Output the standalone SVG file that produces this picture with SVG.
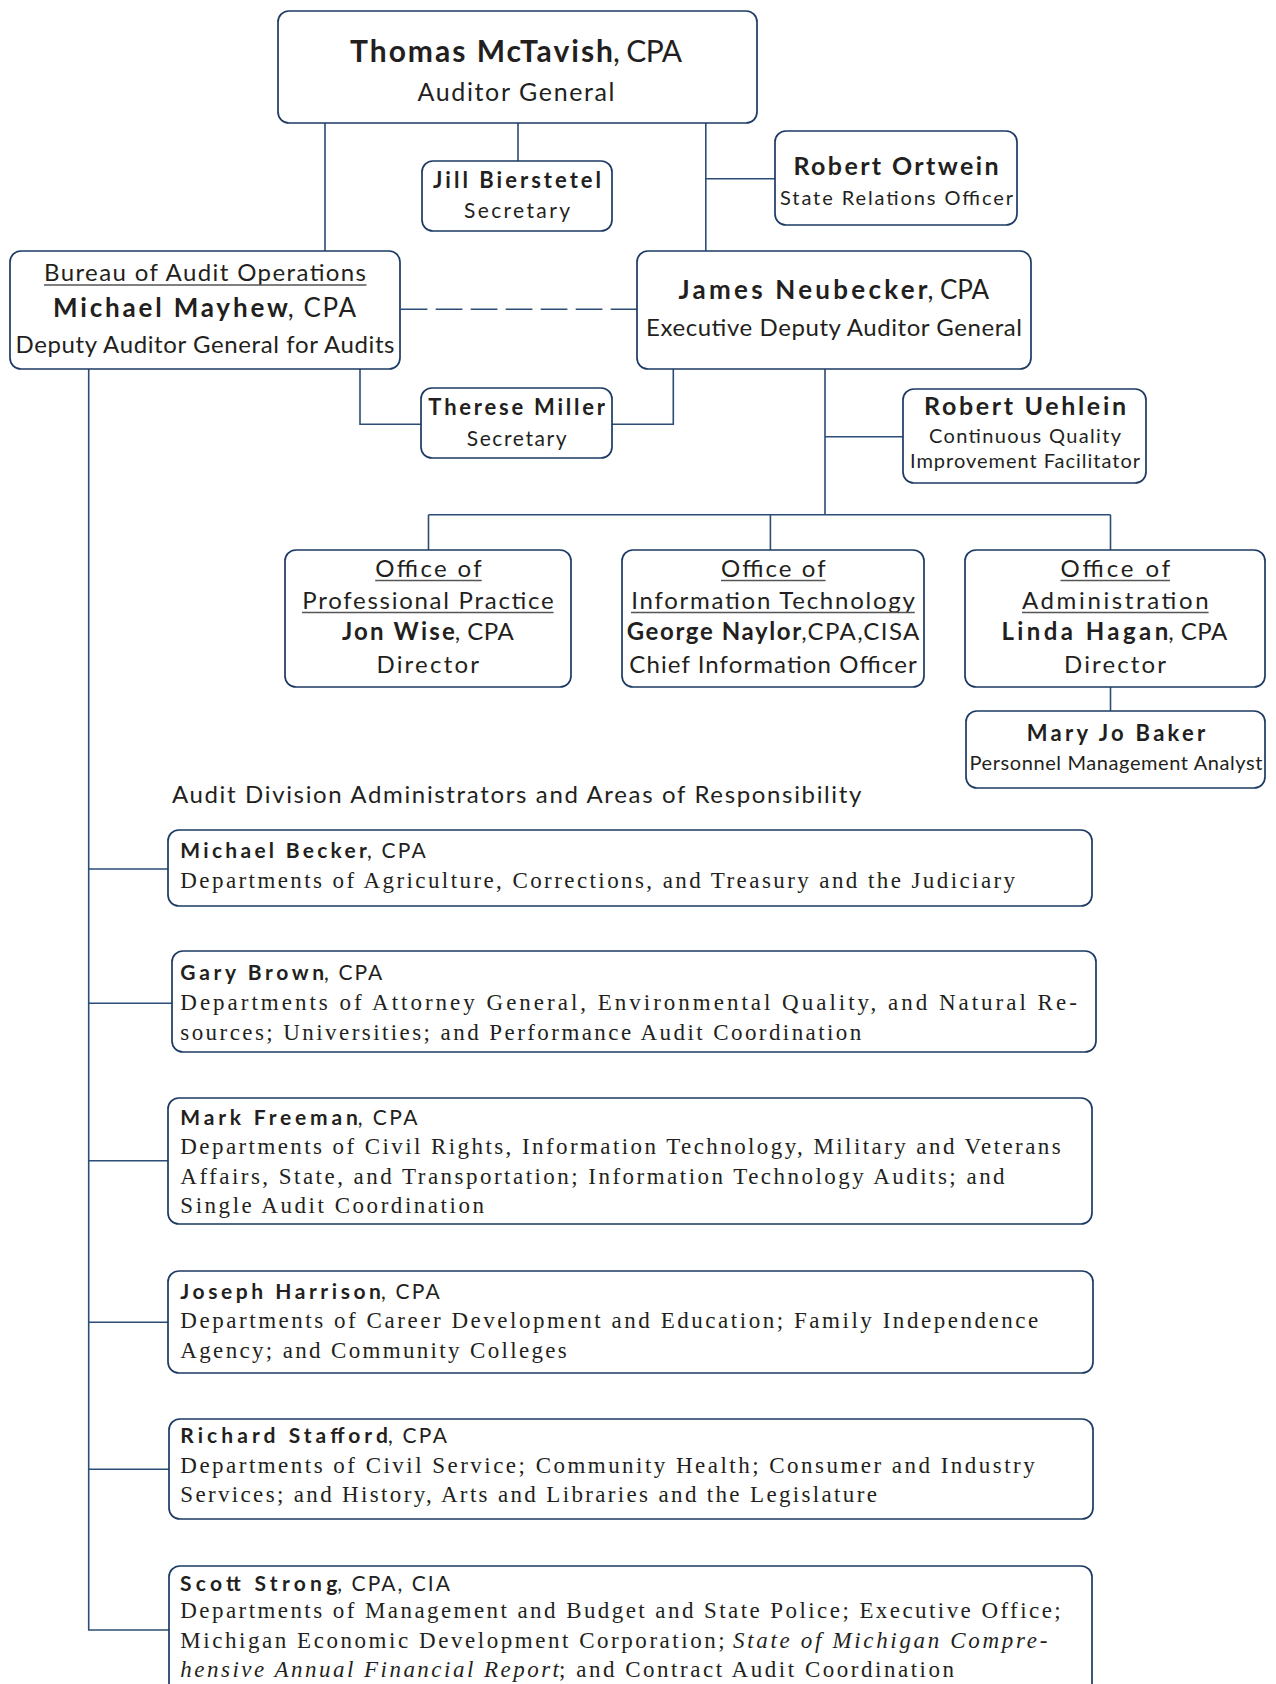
<svg xmlns="http://www.w3.org/2000/svg" width="1276" height="1684" viewBox="0 0 1276 1684">
<style>
.box{fill:#fff;stroke:#1c3a63;stroke-width:1.7}
.con{fill:none;stroke:#2c4d75;stroke-width:1.6}
.dash{fill:none;stroke:#2c4d75;stroke-width:1.6;stroke-dasharray:26.7 8.3}
.ul{stroke:#555;stroke-width:1.3}
text{font-family:Lato,"Open Sans","Liberation Sans",sans-serif;fill:#231f20}
.b{font-weight:bold}
.c{text-anchor:middle}
.s{font-family:"Liberation Serif","DejaVu Serif",serif;font-size:23px}
.i{font-style:italic}
.n{font-size:21px}
</style>
<rect width="1276" height="1684" fill="#fff"/>
<g id="connectors">
<path class="con" d="M325 123V251M518 123V161M705.8 123V251M705.8 178.7H775"/>
<path class="dash" d="M400.7 309.3H637"/>
<path class="con" d="M360 369V424.3H421M673.3 369V424.3H611.7"/>
<path class="con" d="M825 369V514.7M825 436.7H903"/>
<path class="con" d="M428.5 514.7H1110.5M428.5 514.7V550M770.4 514.7V550M1110.5 514.7V550M1110.5 687V711"/>
<path class="con" d="M88.7 369V1630H169M88.7 869H168M88.7 1003.3H172M88.7 1160.7H168M88.7 1322.3H168M88.7 1469.3H169"/>
</g>
<g id="mctavish">
<rect class="box" x="278" y="11" width="479" height="112" rx="11"/>
<text y="61.7" font-size="30"><tspan class="b" x="350" textLength="263" lengthAdjust="spacing">Thomas McTavish</tspan><tspan x="613" textLength="69" lengthAdjust="spacing">, CPA</tspan></text>
<text class="c" x="516" y="100.7" font-size="25" textLength="197" lengthAdjust="spacing">Auditor General</text>
</g>
<g id="bierstetel">
<rect class="box" x="422" y="161" width="190" height="70" rx="11"/>
<text class="c b" x="517" y="188.3" font-size="22" textLength="168" lengthAdjust="spacing">Jill Bierstetel</text>
<text class="c" x="517" y="218.3" font-size="21" textLength="106" lengthAdjust="spacing">Secretary</text>
</g>
<g id="ortwein">
<rect class="box" x="775" y="131" width="242" height="94" rx="11"/>
<text class="c b" x="896" y="175" font-size="25" textLength="205" lengthAdjust="spacing">Robert Ortwein</text>
<text class="c" x="896.5" y="205.3" font-size="20" textLength="233" lengthAdjust="spacing">State Relations Officer</text>
</g>
<g id="mayhew">
<rect class="box" x="10" y="251" width="390" height="118" rx="11"/>
<text class="c" x="205" y="281" font-size="24" textLength="322" lengthAdjust="spacing">Bureau of Audit Operations</text>
<path class="ul" d="M44 285H366.5"/>
<text y="317" font-size="26"><tspan class="b" x="53" textLength="234.8" lengthAdjust="spacing">Michael Mayhew</tspan><tspan x="287.8" textLength="68.2" lengthAdjust="spacing">, CPA</tspan></text>
<text class="c" x="205" y="352.7" font-size="24" textLength="379" lengthAdjust="spacing">Deputy Auditor General for Audits</text>
</g>
<g id="neubecker">
<rect class="box" x="637" y="251" width="394" height="118" rx="11"/>
<text y="299.3" font-size="26"><tspan class="b" x="678.6" textLength="248.9" lengthAdjust="spacing">James Neubecker</tspan><tspan x="927.5" textLength="61.5" lengthAdjust="spacing">, CPA</tspan></text>
<text class="c" x="834" y="336" font-size="24" textLength="376" lengthAdjust="spacing">Executive Deputy Auditor General</text>
</g>
<g id="miller">
<rect class="box" x="421" y="388" width="191" height="70" rx="11"/>
<text class="c b" x="516.7" y="415" font-size="22" textLength="176.7" lengthAdjust="spacing">Therese Miller</text>
<text class="c" x="516.7" y="445.7" font-size="21" textLength="100" lengthAdjust="spacing">Secretary</text>
</g>
<g id="uehlein">
<rect class="box" x="903" y="389" width="243" height="94" rx="11"/>
<text class="c b" x="1025" y="415" font-size="25" textLength="202" lengthAdjust="spacing">Robert Uehlein</text>
<text class="c" x="1025" y="443.3" font-size="20" textLength="192" lengthAdjust="spacing">Continuous Quality</text>
<text class="c" x="1025" y="467.7" font-size="20" textLength="230" lengthAdjust="spacing">Improvement Facilitator</text>
</g>
<g id="professional-practice">
<rect class="box" x="285" y="550" width="286" height="137" rx="11"/>
<text class="c" x="428.5" y="577.3" font-size="24" textLength="106.5" lengthAdjust="spacing">Office of</text>
<text class="c" x="428" y="609.3" font-size="24" textLength="251.5" lengthAdjust="spacing">Professional Practice</text>
<path class="ul" d="M375.2 580.5H481.7M302 612.5H553.6"/>
<text y="640" font-size="24"><tspan class="b" x="341.9" textLength="112.9" lengthAdjust="spacing">Jon Wise</tspan><tspan x="454.8" textLength="59" lengthAdjust="spacing">, CPA</tspan></text>
<text class="c" x="427.7" y="672.7" font-size="24" textLength="102.6" lengthAdjust="spacing">Director</text>
</g>
<g id="information-technology">
<rect class="box" x="622" y="550" width="302" height="137" rx="11"/>
<text class="c" x="773.3" y="577.3" font-size="24" textLength="104.6" lengthAdjust="spacing">Office of</text>
<text class="c" x="773" y="609.3" font-size="24" textLength="283.6" lengthAdjust="spacing">Information Technology</text>
<path class="ul" d="M721 580.5H825.6M631 612.5H914.8"/>
<text y="640" font-size="24"><tspan class="b" x="626.7" textLength="174.5" lengthAdjust="spacing">George Naylor</tspan><tspan x="801.2" textLength="118.1" lengthAdjust="spacing">,CPA,CISA</tspan></text>
<text class="c" x="773" y="672.7" font-size="24" textLength="287.4" lengthAdjust="spacing">Chief Information Officer</text>
</g>
<g id="administration">
<rect class="box" x="965" y="550" width="300" height="137" rx="11"/>
<text class="c" x="1115.3" y="577.3" font-size="24" textLength="109.7" lengthAdjust="spacing">Office of</text>
<text class="c" x="1115.3" y="609.3" font-size="24" textLength="186.7" lengthAdjust="spacing">Administration</text>
<path class="ul" d="M1060.5 580.5H1170M1022 612.5H1208.6"/>
<text y="640" font-size="24"><tspan class="b" x="1001.4" textLength="166.8" lengthAdjust="spacing">Linda Hagan</tspan><tspan x="1168.2" textLength="59.1" lengthAdjust="spacing">, CPA</tspan></text>
<text class="c" x="1115" y="672.7" font-size="24" textLength="102" lengthAdjust="spacing">Director</text>
</g>
<g id="baker">
<rect class="box" x="966" y="711" width="299" height="77" rx="11"/>
<text class="c b" x="1116" y="740.7" font-size="22" textLength="178.5" lengthAdjust="spacing">Mary Jo Baker</text>
<text class="c" x="1116" y="770" font-size="20" textLength="293" lengthAdjust="spacing">Personnel Management Analyst</text>
</g>
<text id="heading" x="171.9" y="803.3" font-size="24" textLength="689.5" lengthAdjust="spacing">Audit Division Administrators and Areas of Responsibility</text>
<g id="becker">
<rect class="box" x="168" y="830" width="924" height="76" rx="11"/>
<text class="n" y="858.3"><tspan class="b" x="180.3" textLength="186.6" lengthAdjust="spacing">Michael Becker</tspan><tspan x="366.9" textLength="58.9" lengthAdjust="spacing">, CPA</tspan></text>
<text class="s" x="180.3" y="888.3" textLength="834.8" lengthAdjust="spacing">Departments of Agriculture, Corrections, and Treasury and the Judiciary</text>
</g>
<g id="brown">
<rect class="box" x="172" y="951" width="924" height="101" rx="11"/>
<text class="n" y="980"><tspan class="b" x="180.3" textLength="143.8" lengthAdjust="spacing">Gary Brown</tspan><tspan x="324.1" textLength="58.2" lengthAdjust="spacing">, CPA</tspan></text>
<text class="s" x="180.3" y="1010" textLength="896.5" lengthAdjust="spacing">Departments of Attorney General, Environmental Quality, and Natural Re-</text>
<text class="s" x="180.3" y="1040" textLength="681" lengthAdjust="spacing">sources; Universities; and Performance Audit Coordination</text>
</g>
<g id="freeman">
<rect class="box" x="168" y="1098" width="924" height="126" rx="11"/>
<text class="n" y="1125"><tspan class="b" x="180.3" textLength="177.5" lengthAdjust="spacing">Mark Freeman</tspan><tspan x="357.8" textLength="59.6" lengthAdjust="spacing">, CPA</tspan></text>
<text class="s" x="180.3" y="1154" textLength="880.4" lengthAdjust="spacing">Departments of Civil Rights, Information Technology, Military and Veterans</text>
<text class="s" x="180.3" y="1184" textLength="824.3" lengthAdjust="spacing">Affairs, State, and Transportation; Information Technology Audits; and</text>
<text class="s" x="180.3" y="1213.3" textLength="303.7" lengthAdjust="spacing">Single Audit Coordination</text>
</g>
<g id="harrison">
<rect class="box" x="168" y="1271" width="925" height="102" rx="11"/>
<text class="n" y="1299"><tspan class="b" x="180.3" textLength="200.6" lengthAdjust="spacing">Joseph Harrison</tspan><tspan x="380.9" textLength="58.9" lengthAdjust="spacing">, CPA</tspan></text>
<text class="s" x="180.3" y="1327.7" textLength="858" lengthAdjust="spacing">Departments of Career Development and Education; Family Independence</text>
<text class="s" x="180.3" y="1358.3" textLength="386.5" lengthAdjust="spacing">Agency; and Community Colleges</text>
</g>
<g id="stafford">
<rect class="box" x="169" y="1419" width="924" height="100" rx="11"/>
<text class="n" y="1443.3"><tspan class="b" x="180.3" textLength="207.6" lengthAdjust="spacing">Richard Stafford</tspan><tspan x="387.9" textLength="59" lengthAdjust="spacing">, CPA</tspan></text>
<text class="s" x="180.3" y="1473.3" textLength="854.4" lengthAdjust="spacing">Departments of Civil Service; Community Health; Consumer and Industry</text>
<text class="s" x="180.3" y="1501.7" textLength="696.6" lengthAdjust="spacing">Services; and History, Arts and Libraries and the Legislature</text>
</g>
<g id="strong">
<rect class="box" x="169" y="1566" width="923" height="150" rx="11"/>
<text class="n" y="1590.7"><tspan class="b" x="180" textLength="157.3" lengthAdjust="spacing">Scott Strong</tspan><tspan x="337.3" textLength="112.7" lengthAdjust="spacing">, CPA, CIA</tspan></text>
<text class="s" x="180.3" y="1618.3" textLength="880.4" lengthAdjust="spacing">Departments of Management and Budget and State Police; Executive Office;</text>
<text class="s" y="1648.3"><tspan x="180.3" textLength="552.7" lengthAdjust="spacing">Michigan Economic Development Corporation; </tspan><tspan class="i" x="733" textLength="314.3" lengthAdjust="spacing">State of Michigan Compre-</tspan></text>
<text class="s" y="1677.3"><tspan class="i" x="180.3" textLength="378.7" lengthAdjust="spacing">hensive Annual Financial Report</tspan><tspan x="559" textLength="395" lengthAdjust="spacing">; and Contract Audit Coordination</tspan></text>
</g>
</svg>
